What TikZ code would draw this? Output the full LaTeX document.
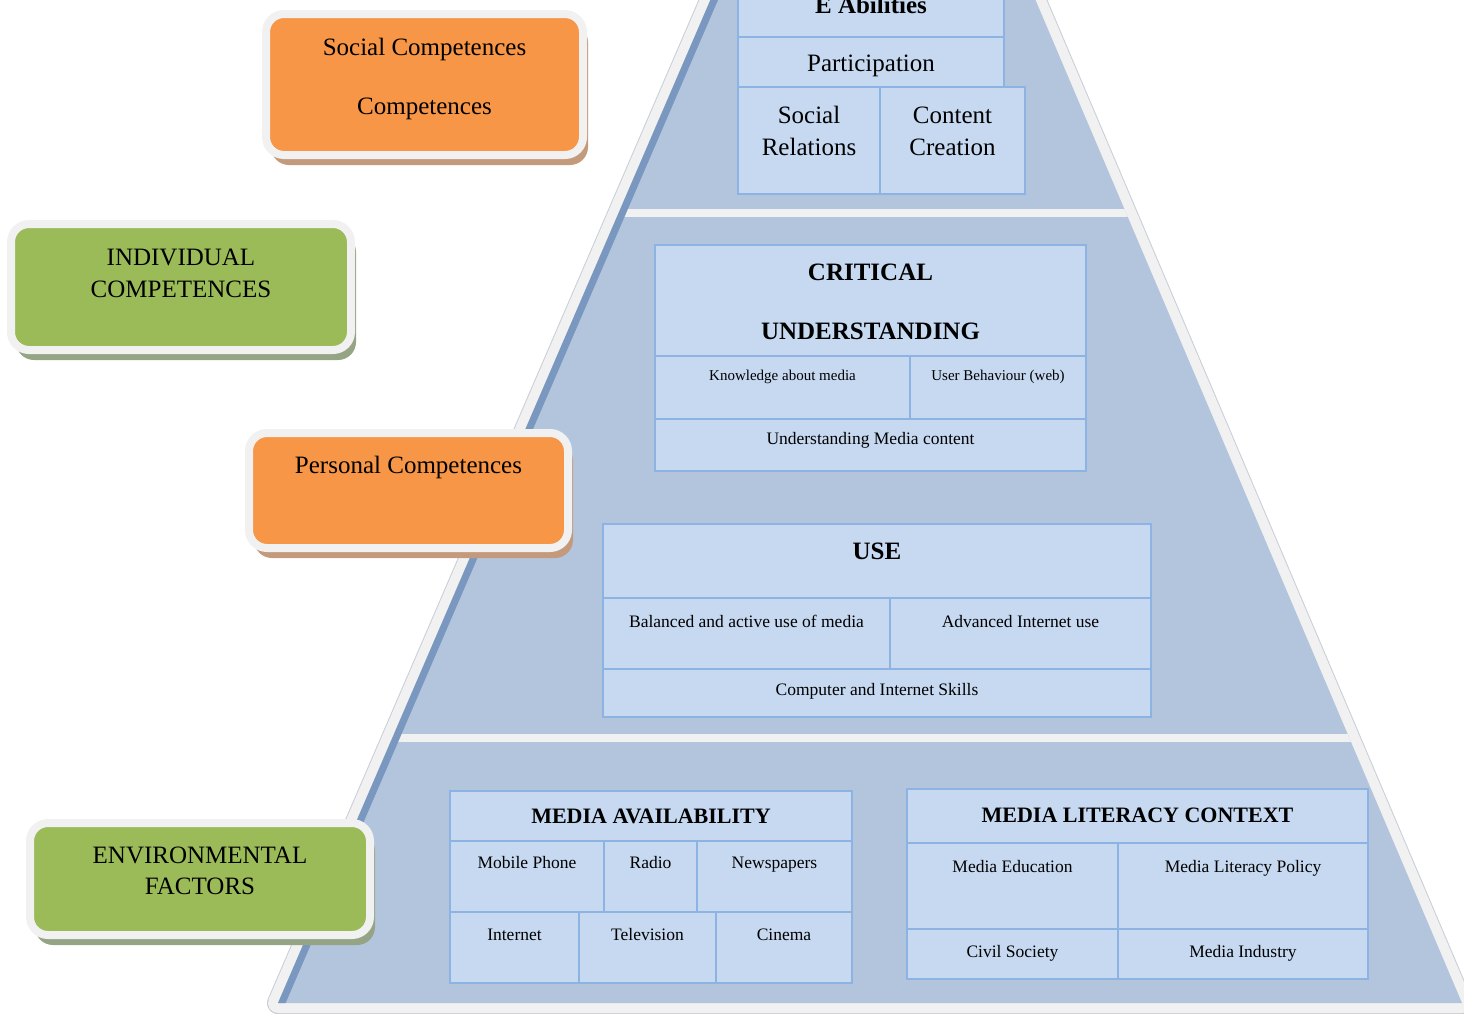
\documentclass[tikz,border=0pt]{standalone}
\usepackage{fontspec}
\setmainfont{Liberation Serif}
\usetikzlibrary{shadows}

\definecolor{pyrfill}{RGB}{178,197,221}
\definecolor{pyredge}{RGB}{122,152,191}
\definecolor{rim}{RGB}{241,241,241}
\definecolor{rimline}{RGB}{200,206,216}
\definecolor{cellfill}{RGB}{198,217,241}
\definecolor{cellline}{RGB}{141,179,226}
\definecolor{orangefill}{RGB}{247,150,70}
\definecolor{greenfill}{RGB}{155,187,89}
\definecolor{orangeshadow}{RGB}{196,154,124}
\definecolor{greenshadow}{RGB}{148,164,132}

\begin{document}
\begin{tikzpicture}
	[x=1pt, y=-1pt,
		cell/.style		={rectangle
									, draw=cellline
									, fill=cellfill
									, line width=2.5pt
									, inner sep=0pt
									, align=center
									},
		tag/.style		={rectangle
									, rounded corners=18pt
									, draw=rim
									, line width=8pt
									, inner sep=0pt
									, align=center
									, font=\fontsize{25}{30}\selectfont
									},
		orangetag/.style	={tag
									, fill=orangefill
									, drop shadow={shadow xshift=5pt, shadow yshift=-10pt, fill=orangeshadow, opacity=1}
									},
		greentag/.style	={tag
									, fill=greenfill
									, drop shadow={shadow xshift=5pt, shadow yshift=-10pt, fill=greenshadow, opacity=1}
									},
		txtbig/.style		={font=\fontsize{25}{30}\selectfont},
		txthead/.style	={font=\fontsize{25}{30}\selectfont\bfseries},
		txtcap/.style		={font=\fontsize{22}{26}\selectfont\bfseries},
		txtmid/.style		={font=\fontsize{17.5}{21}\selectfont},
		txtsmall/.style	={font=\fontsize{15}{18}\selectfont}
	]
\useasboundingbox (0,0) rectangle (1464,1013);

% pyramid
\coordinate (tl) at (719,-20);
\coordinate (tr) at (1027,-20);
\coordinate (br) at (1462,1003);
\coordinate (bl) at (278,1003);
\draw [rimline, line width=22pt, line join=round] (tl) -- (tr) -- (br) -- (bl) -- cycle;
\draw [rim, line width=20pt, line join=round] (tl) -- (tr) -- (br) -- (bl) -- cycle;
\fill [pyrfill] (tl) -- (tr) -- (br) -- (bl) -- cycle;
\begin{scope}
	\clip (tl) -- (tr) -- (br) -- (bl) -- cycle;
	\draw [rim, line width=8pt] (300,213) -- (1400,213);
	\draw [rim, line width=8pt] (300,738) -- (1400,738);
	\draw [pyredge, line width=14pt] (tl) -- (bl);
\end{scope}

% top level
\node [cell, txthead, minimum width=266, text height=53, text depth=24] (eab)		at (871,-1.5)	{E Abilities};
\node [cell, txtbig, minimum width=266, text height=34, text depth=16] (part)		at (871,62)		{Participation};
\node [cell, txtbig, minimum width=142, text height=68, text depth=39] (socrel)	at (809,140.5)	{Social\\[2pt]Relations};
\node [cell, txtbig, minimum width=145, text height=68, text depth=39] (concre)	at (952.5,140.5)	{Content\\[2pt]Creation};

% middle level
\node [cell, txthead, minimum width=431, text height=94, text depth=17] (crit)	at (870.5,300.5)	{CRITICAL\\[29pt]UNDERSTANDING};
\node [cell, txtsmall, minimum width=255, text height=24, text depth=39] (know)	at (782.5,387.5)	{Knowledge about media};
\node [cell, txtsmall, minimum width=176, text height=24, text depth=39] (userb)	at (998,387.5)	{User Behaviour (web)};
\node [cell, txtmid, minimum width=431, text height=25, text depth=27] (undm)		at (870.5,445)	{Understanding Media content};

\node [cell, txthead, minimum width=548, text height=35, text depth=39] (use)		at (877,561)	{USE};
\node [cell, txtmid, minimum width=287, text height=29, text depth=42] (bal)		at (746.5,633.5)	{Balanced and active use of media};
\node [cell, txtmid, minimum width=261, text height=29, text depth=42] (adv)		at (1020.5,633.5)	{Advanced Internet use};
\node [cell, txtmid, minimum width=548, text height=26, text depth=22] (comp)		at (877,693)	{Computer and Internet Skills};

% bottom level
\node [cell, txtcap, minimum width=402, text height=32, text depth=18] (mav)		at (651,816)		{MEDIA AVAILABILITY};
\node [cell, txtmid, minimum width=154, text height=27, text depth=44] (mob)		at (527,876.5)	{Mobile Phone};
\node [cell, txtmid, minimum width=93, text height=27, text depth=44] (radio)		at (650.5,876.5)	{Radio};
\node [cell, txtmid, minimum width=155, text height=27, text depth=44] (news)		at (774.5,876.5)	{Newspapers};
\node [cell, txtmid, minimum width=129, text height=28, text depth=43] (inet)		at (514.5,947.5)	{Internet};
\node [cell, txtmid, minimum width=137, text height=28, text depth=43] (tv)			at (647.5,947.5)	{Television};
\node [cell, txtmid, minimum width=136, text height=28, text depth=43] (cine)		at (784,947.5)	{Cinema};

\node [cell, txtcap, minimum width=461, text height=33, text depth=21] (mlc)		at (1137.5,816)	{MEDIA LITERACY CONTEXT};
\node [cell, txtmid, minimum width=211, text height=29, text depth=57] (medu)		at (1012.5,886)	{Media Education};
\node [cell, txtmid, minimum width=250, text height=29, text depth=57] (mlp)		at (1243,886)		{Media Literacy Policy};
\node [cell, txtmid, minimum width=211, text height=28, text depth=22] (civ)		at (1012.5,954)	{Civil Society};
\node [cell, txtmid, minimum width=250, text height=28, text depth=22] (mind)		at (1243,954)		{Media Industry};

% side tags
\node [orangetag, minimum width=317, text height=100, text depth=41] (social)	at (424.5,84.5)	{Social Competences\\[29pt]Competences};
\node [greentag, minimum width=340, text height=73, text depth=53] (individual)	at (181,287)		{INDIVIDUAL\\[2pt]COMPETENCES};
\node [orangetag, minimum width=319, text height=40, text depth=75] (personal)	at (408.5,490.5)	{Personal Competences};
\node [greentag, minimum width=340, text height=71, text depth=41] (environ)	at (200,879)		{ENVIRONMENTAL\\[1pt]FACTORS};
\end{tikzpicture}
\end{document}
